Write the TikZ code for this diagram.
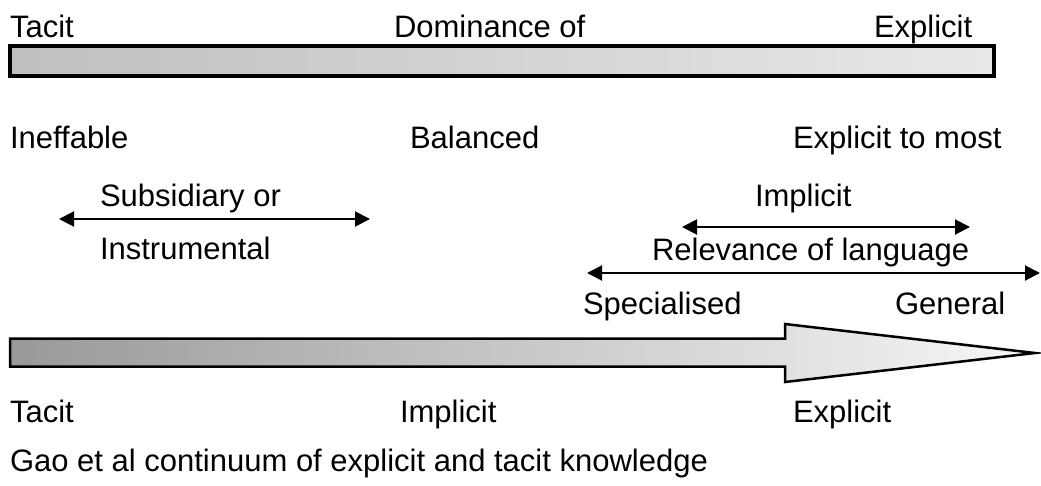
\documentclass[tikz,border=0pt]{standalone}
\usepackage{fontspec}
\setmainfont{Liberation Sans}
\usetikzlibrary{arrows.meta}
\begin{document}
\begin{tikzpicture}[x=1pt,y=-1pt,
  lbl/.style={anchor=base west,inner sep=0pt,outer sep=0pt,font=\fontsize{31}{37}\selectfont},
  dbl/.style={line width=2pt,{Triangle[length=15pt,width=15pt]}-{Triangle[length=15pt,width=15pt]}}]
\useasboundingbox (0,0) rectangle (1041,485);
% top bar
\shade[left color=black!25,right color=black!9,draw=black,line width=4pt] (10,46) rectangle (994,76);
\node[lbl] (tacitT) at (10,37) {Tacit};
\node[lbl] (dom) at (394,37) {Dominance of};
\node[lbl] (explT) at (874,37) {Explicit};
% middle row
\node[lbl] (ineff) at (10,148) {Ineffable};
\node[lbl] (bal) at (410,148) {Balanced};
\node[lbl] (expmost) at (793,148) {Explicit to most};
\node[lbl] (subs) at (100,206) {Subsidiary or};
\node[lbl] (instr) at (100,259) {Instrumental};
\node[lbl] (implR) at (755,206) {Implicit};
\node[lbl] (relev) at (652,260) {Relevance of language};
\node[lbl] (spec) at (583,314) {Specialised};
\node[lbl] (gen) at (895,314) {General};
\coordinate (a1) at (59,219);
\coordinate (a2) at (370,219);
\coordinate (b1) at (682,227);
\coordinate (b2) at (970,227);
\coordinate (c1) at (587,273);
\coordinate (c2) at (1040,273);
\draw[dbl] (a1) -- (a2);
\draw[dbl] (b1) -- (b2);
\draw[dbl] (c1) -- (c2);
% big arrow
\shade[left color=black!40,right color=black!3,draw=black,line width=2.5pt,line join=miter]
  (10,338.5) -- (785,338.5) -- (785,324) -- (1035,353) -- (785,382) -- (785,366.5) -- (10,366.5) -- cycle;
\node[lbl] (tacitB) at (10,422) {Tacit};
\node[lbl] (implB) at (400,422) {Implicit};
\node[lbl] (explB) at (793,422) {Explicit};
\node[lbl] (cap) at (10,471) {Gao et al continuum of explicit and tacit knowledge};
\end{tikzpicture}
\end{document}
